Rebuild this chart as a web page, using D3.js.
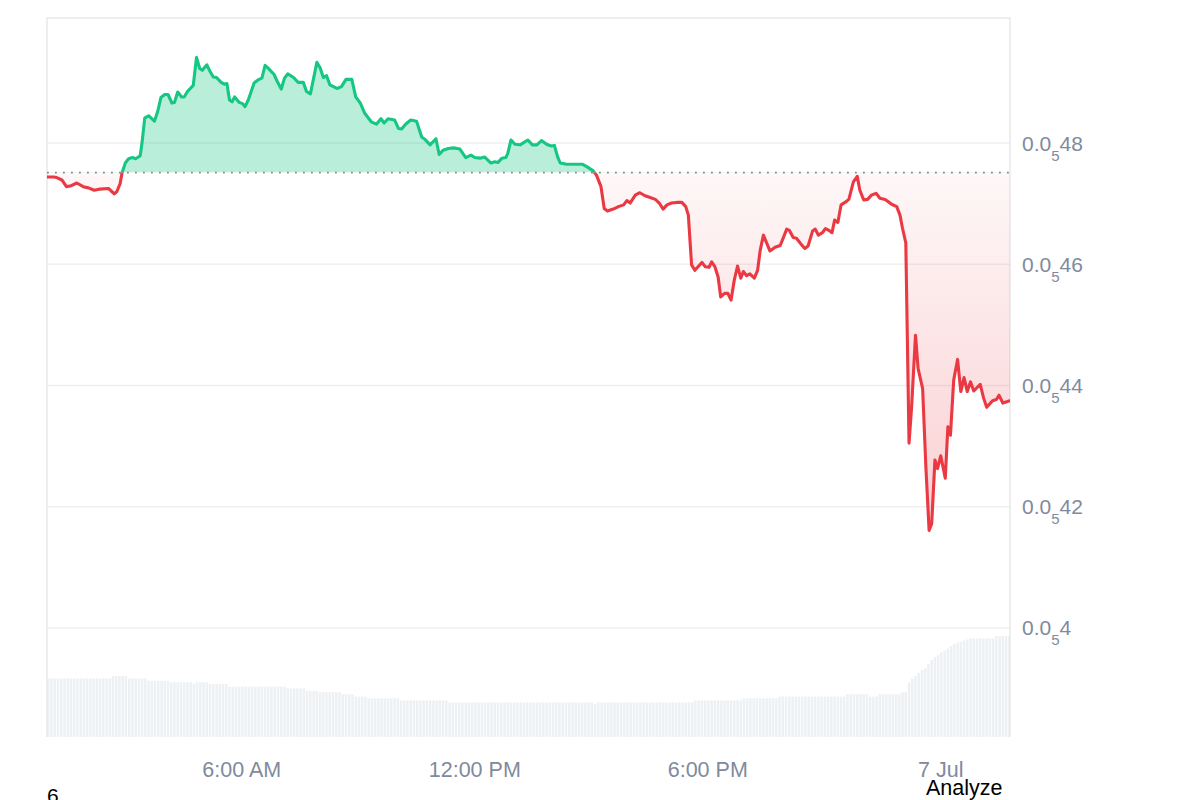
<!DOCTYPE html>
<html>
<head>
<meta charset="utf-8">
<script src="https://cdn.jsdelivr.net/npm/d3@7"></script>
<style>
  body { margin: 0; background: #fff; }
  svg { display: block; font-family: "Liberation Sans", Arial, sans-serif; }
</style>
</head>
<body>
<svg id="chart" width="1200" height="800"></svg>
<script>
// prices are in millionths: 4.8 means 0.0000048 (shown as 0.0₅48)
const pricePoints = [
  ["06 00:59", 4.744], ["06 01:09", 4.744], ["06 01:14", 4.743], ["06 01:22", 4.739],
  ["06 01:29", 4.728], ["06 01:35", 4.729], ["06 01:45", 4.734], ["06 01:55", 4.728],
  ["06 02:03", 4.726], ["06 02:12", 4.722], ["06 02:21", 4.724], ["06 02:34", 4.725],
  ["06 02:39", 4.720], ["06 02:43", 4.716], ["06 02:47", 4.720], ["06 02:52", 4.733],
  ["06 02:55", 4.751], ["06 03:00", 4.767], ["06 03:05", 4.774], ["06 03:11", 4.776],
  ["06 03:16", 4.774], ["06 03:23", 4.779], ["06 03:26", 4.802], ["06 03:30", 4.841],
  ["06 03:36", 4.845], ["06 03:45", 4.836], ["06 03:50", 4.852], ["06 03:55", 4.875],
  ["06 04:01", 4.880], ["06 04:06", 4.880], ["06 04:12", 4.866], ["06 04:16", 4.867],
  ["06 04:21", 4.884], ["06 04:27", 4.876], ["06 04:31", 4.876], ["06 04:36", 4.885],
  ["06 04:45", 4.895], ["06 04:50", 4.941], ["06 04:55", 4.923], ["06 04:59", 4.920],
  ["06 05:06", 4.929], ["06 05:11", 4.918], ["06 05:16", 4.909], ["06 05:21", 4.908],
  ["06 05:28", 4.900], ["06 05:33", 4.897], ["06 05:37", 4.898], ["06 05:41", 4.871],
  ["06 05:45", 4.868], ["06 05:49", 4.876], ["06 05:56", 4.867], ["06 06:01", 4.865],
  ["06 06:05", 4.860], ["06 06:10", 4.871], ["06 06:19", 4.899], ["06 06:25", 4.904],
  ["06 06:31", 4.907], ["06 06:36", 4.928], ["06 06:41", 4.923], ["06 06:50", 4.913],
  ["06 06:55", 4.901], ["06 07:01", 4.889], ["06 07:06", 4.907], ["06 07:11", 4.914],
  ["06 07:20", 4.908], ["06 07:27", 4.900], ["06 07:35", 4.900], ["06 07:40", 4.885],
  ["06 07:46", 4.881], ["06 07:56", 4.933], ["06 08:01", 4.924], ["06 08:06", 4.908],
  ["06 08:11", 4.911], ["06 08:16", 4.896], ["06 08:27", 4.890], ["06 08:34", 4.893],
  ["06 08:41", 4.905], ["06 08:50", 4.905], ["06 08:56", 4.876], ["06 09:03", 4.866],
  ["06 09:10", 4.849], ["06 09:20", 4.835], ["06 09:28", 4.831], ["06 09:35", 4.840],
  ["06 09:40", 4.833], ["06 09:46", 4.840], ["06 09:56", 4.838], ["06 10:02", 4.824],
  ["06 10:07", 4.823], ["06 10:13", 4.831], ["06 10:21", 4.838], ["06 10:30", 4.836],
  ["06 10:38", 4.810], ["06 10:43", 4.806], ["06 10:51", 4.797], ["06 11:00", 4.807],
  ["06 11:05", 4.781], ["06 11:11", 4.788], ["06 11:19", 4.791], ["06 11:27", 4.792],
  ["06 11:37", 4.790], ["06 11:46", 4.776], ["06 11:54", 4.780], ["06 12:00", 4.776],
  ["06 12:08", 4.775], ["06 12:15", 4.777], ["06 12:25", 4.767], ["06 12:31", 4.769],
  ["06 12:36", 4.768], ["06 12:42", 4.775], ["06 12:48", 4.776], ["06 12:51", 4.783],
  ["06 12:56", 4.805], ["06 13:02", 4.798], ["06 13:10", 4.797], ["06 13:22", 4.805],
  ["06 13:29", 4.797], ["06 13:36", 4.797], ["06 13:43", 4.804], ["06 13:51", 4.798],
  ["06 13:58", 4.795], ["06 14:03", 4.796], ["06 14:08", 4.777], ["06 14:12", 4.767],
  ["06 14:22", 4.765], ["06 14:40", 4.765], ["06 14:46", 4.765], ["06 14:53", 4.761],
  ["06 15:03", 4.754], ["06 15:08", 4.747], ["06 15:15", 4.728], ["06 15:20", 4.692],
  ["06 15:25", 4.688], ["06 15:34", 4.691], ["06 15:42", 4.695], ["06 15:50", 4.698],
  ["06 15:55", 4.705], ["06 16:00", 4.701], ["06 16:08", 4.714], ["06 16:15", 4.718],
  ["06 16:23", 4.713], ["06 16:31", 4.710], ["06 16:39", 4.707], ["06 16:45", 4.701],
  ["06 16:51", 4.691], ["06 16:57", 4.698], ["06 17:04", 4.701], ["06 17:12", 4.702],
  ["06 17:20", 4.702], ["06 17:26", 4.695], ["06 17:30", 4.681], ["06 17:35", 4.599],
  ["06 17:40", 4.590], ["06 17:51", 4.603], ["06 17:56", 4.596], ["06 18:02", 4.595],
  ["06 18:06", 4.604], ["06 18:11", 4.596], ["06 18:16", 4.579], ["06 18:20", 4.546],
  ["06 18:26", 4.552], ["06 18:31", 4.552], ["06 18:36", 4.541], ["06 18:41", 4.574],
  ["06 18:46", 4.597], ["06 18:51", 4.577], ["06 18:55", 4.588], ["06 19:00", 4.581],
  ["06 19:05", 4.584], ["06 19:12", 4.577], ["06 19:17", 4.590], ["06 19:21", 4.623],
  ["06 19:26", 4.648], ["06 19:36", 4.622], ["06 19:44", 4.628], ["06 19:52", 4.631],
  ["06 20:02", 4.658], ["06 20:06", 4.656], ["06 20:12", 4.644], ["06 20:17", 4.643],
  ["06 20:25", 4.632], ["06 20:30", 4.626], ["06 20:35", 4.630], ["06 20:42", 4.655],
  ["06 20:46", 4.658], ["06 20:51", 4.648], ["06 20:57", 4.652], ["06 21:02", 4.659],
  ["06 21:07", 4.656], ["06 21:12", 4.652], ["06 21:16", 4.673], ["06 21:21", 4.669],
  ["06 21:26", 4.698], ["06 21:32", 4.702], ["06 21:38", 4.707], ["06 21:45", 4.736],
  ["06 21:51", 4.745], ["06 21:55", 4.722], ["06 22:01", 4.706], ["06 22:07", 4.707],
  ["06 22:13", 4.714], ["06 22:20", 4.717], ["06 22:26", 4.709], ["06 22:34", 4.707],
  ["06 22:39", 4.703], ["06 22:44", 4.699], ["06 22:52", 4.695], ["06 22:57", 4.681],
  ["06 23:01", 4.659], ["06 23:06", 4.635], ["06 23:11", 4.305], ["06 23:15", 4.365],
  ["06 23:21", 4.483], ["06 23:25", 4.428], ["06 23:32", 4.395], ["06 23:37", 4.266],
  ["06 23:42", 4.161], ["06 23:46", 4.172], ["06 23:51", 4.277], ["06 23:55", 4.263],
  ["07 00:00", 4.284], ["07 00:07", 4.247], ["07 00:11", 4.332], ["07 00:15", 4.318],
  ["07 00:20", 4.409], ["07 00:26", 4.443], ["07 00:31", 4.390], ["07 00:36", 4.413],
  ["07 00:41", 4.390], ["07 00:46", 4.406], ["07 00:51", 4.391], ["07 01:01", 4.402],
  ["07 01:06", 4.380], ["07 01:11", 4.364], ["07 01:20", 4.375], ["07 01:26", 4.377],
  ["07 01:30", 4.384], ["07 01:36", 4.371], ["07 01:47", 4.375]
];

const openPrice = 4.7513;
const priceDomain = [3.8202, 5.0062];
const priceTicks = [4.0, 4.2, 4.4, 4.6, 4.8];
const timeRange = ["06 00:59", "07 01:47"];

// 5 minute volume bars, one row per hour
const volumeStart = "06 00:59";
const volumeStepMinutes = 5;
const volumeValues = [
  1.71, 1.71, 1.71, 1.71, 1.71, 1.71, 1.71, 1.71, 1.71, 1.71, 1.71, 1.71,
  1.71, 1.71, 1.71, 1.71, 1.71, 1.71, 1.71, 1.71, 1.78, 1.78, 1.78, 1.78,
  1.78, 1.71, 1.71, 1.71, 1.71, 1.71, 1.71, 1.64, 1.64, 1.64, 1.64, 1.64,
  1.64, 1.64, 1.60, 1.60, 1.60, 1.60, 1.60, 1.60, 1.60, 1.55, 1.60, 1.60,
  1.60, 1.60, 1.55, 1.55, 1.55, 1.55, 1.55, 1.55, 1.47, 1.47, 1.47, 1.47,
  1.47, 1.47, 1.47, 1.47, 1.47, 1.47, 1.47, 1.47, 1.47, 1.47, 1.47, 1.47,
  1.47, 1.47, 1.42, 1.42, 1.42, 1.42, 1.42, 1.42, 1.35, 1.35, 1.35, 1.35,
  1.31, 1.31, 1.31, 1.31, 1.31, 1.31, 1.31, 1.25, 1.25, 1.25, 1.25, 1.18,
  1.18, 1.18, 1.18, 1.13, 1.13, 1.13, 1.13, 1.13, 1.13, 1.13, 1.13, 1.13,
  1.13, 1.07, 1.07, 1.07, 1.07, 1.07, 1.07, 1.07, 1.07, 1.07, 1.07, 1.07,
  1.07, 1.07, 1.07, 1.07, 1.01, 1.01, 1.01, 1.01, 1.01, 1.01, 1.01, 1.01,
  1.01, 1.01, 1.01, 1.01, 1.01, 1.01, 1.01, 1.01, 1.01, 1.01, 1.01, 1.01,
  1.01, 1.01, 1.01, 1.01, 1.01, 1.01, 1.01, 1.01, 1.01, 1.01, 1.01, 1.01,
  1.01, 1.01, 1.01, 1.01, 1.01, 1.01, 1.01, 1.01, 1.01, 1.01, 1.01, 1.01,
  1.01, 0.96, 1.01, 1.01, 1.01, 1.01, 1.01, 1.01, 1.01, 1.01, 1.01, 1.01,
  1.01, 1.01, 1.01, 1.01, 1.01, 1.01, 1.01, 1.01, 1.01, 1.01, 1.01, 1.01,
  1.01, 1.01, 1.01, 1.01, 1.01, 1.01, 1.01, 1.01, 1.07, 1.07, 1.07, 1.07,
  1.07, 1.07, 1.07, 1.07, 1.07, 1.07, 1.07, 1.07, 1.07, 1.07, 1.07, 1.13,
  1.13, 1.13, 1.13, 1.13, 1.13, 1.13, 1.13, 1.13, 1.13, 1.13, 1.18, 1.18,
  1.18, 1.18, 1.18, 1.18, 1.18, 1.18, 1.18, 1.18, 1.18, 1.18, 1.18, 1.18,
  1.18, 1.18, 1.18, 1.18, 1.18, 1.18, 1.18, 1.25, 1.25, 1.25, 1.25, 1.25,
  1.25, 1.25, 1.18, 1.18, 1.18, 1.25, 1.25, 1.25, 1.25, 1.25, 1.25, 1.25,
  1.31, 1.31, 1.59, 1.71, 1.78, 1.87, 1.96, 2.01, 2.13, 2.25, 2.34, 2.39,
  2.47, 2.52, 2.58, 2.66, 2.72, 2.76, 2.78, 2.82, 2.85, 2.88, 2.88, 2.88,
  2.88, 2.88, 2.88, 2.88, 2.88, 2.95, 2.95, 2.95, 2.95, 2.95
];
const volumeDomain = [0, 4];

const GREEN = '#16c784';
const RED = '#ea3943';
const LABEL = '#808a9d';

const plot = { left: 47, right: 1010, top: 18, bottom: 737 };
const parseTime = s => d3.timeParse('%Y-%m-%d %H:%M')('2024-07-' + s);

const series = pricePoints.map(([t, v]) => ({ date: parseTime(t), value: v }));

const x = d3.scaleTime()
  .domain(timeRange.map(parseTime))
  .range([plot.left, plot.right]);

const y = d3.scaleLinear()
  .domain(priceDomain)
  .range([plot.bottom, plot.top]);

const volY = d3.scaleLinear()
  .domain(volumeDomain)
  .range([plot.bottom, 600]);

const svg = d3.select('#chart');
const baseY = y(openPrice);

const defs = svg.append('defs');
defs.append('clipPath').attr('id', 'clip-up')
  .append('rect')
  .attr('x', plot.left).attr('y', plot.top)
  .attr('width', plot.right - plot.left).attr('height', baseY - plot.top);
defs.append('clipPath').attr('id', 'clip-down')
  .append('rect')
  .attr('x', plot.left).attr('y', baseY)
  .attr('width', plot.right - plot.left).attr('height', plot.bottom - baseY);

const grad = defs.append('linearGradient')
  .attr('id', 'red-fade')
  .attr('gradientUnits', 'userSpaceOnUse')
  .attr('x1', 0).attr('x2', 0)
  .attr('y1', baseY).attr('y2', y(4.16));
grad.append('stop').attr('offset', 0).attr('stop-color', RED).attr('stop-opacity', 0.04);
grad.append('stop').attr('offset', 1).attr('stop-color', RED).attr('stop-opacity', 0.24);

// volume bars
const volStart = parseTime(volumeStart);
const slotW = x(d3.timeMinute.offset(volStart, volumeStepMinutes)) - x(volStart);
svg.append('g')
  .selectAll('rect')
  .data(volumeValues)
  .enter()
  .append('rect')
  .attr('x', (d, i) => x(d3.timeMinute.offset(volStart, i * volumeStepMinutes)))
  .attr('y', d => volY(d))
  .attr('width', (d, i) => {
    const x0 = x(d3.timeMinute.offset(volStart, i * volumeStepMinutes));
    return Math.max(0, Math.min(slotW - 0.7, plot.right - x0));
  })
  .attr('height', d => plot.bottom - volY(d))
  .attr('fill', '#eef1f4');

// grid
svg.append('g')
  .selectAll('line')
  .data(priceTicks)
  .enter()
  .append('line')
  .attr('x1', plot.left).attr('x2', plot.right)
  .attr('y1', d => y(d)).attr('y2', d => y(d))
  .attr('stroke', '#efefef')
  .attr('stroke-width', 1.3);

// frame
svg.append('path')
  .attr('d', `M${plot.left},${plot.bottom}V${plot.top}H${plot.right}V${plot.bottom}`)
  .attr('fill', 'none')
  .attr('stroke', '#e9e9e9')
  .attr('stroke-width', 1.5);

const area = d3.area()
  .x(d => x(d.date))
  .y0(baseY)
  .y1(d => y(d.value));

const line = d3.line()
  .x(d => x(d.date))
  .y(d => y(d.value));

svg.append('path')
  .datum(series)
  .attr('d', area)
  .attr('clip-path', 'url(#clip-up)')
  .attr('fill', GREEN)
  .attr('fill-opacity', 0.3);

svg.append('path')
  .datum(series)
  .attr('d', area)
  .attr('clip-path', 'url(#clip-down)')
  .attr('fill', 'url(#red-fade)');

// opening price reference
svg.append('line')
  .attr('x1', plot.left).attr('x2', plot.right)
  .attr('y1', baseY).attr('y2', baseY)
  .attr('stroke', '#8a8a8a')
  .attr('stroke-width', 1.8)
  .attr('stroke-dasharray', '1.8 6.2');

[['clip-up', GREEN], ['clip-down', RED]].forEach(([clip, color]) => {
  svg.append('path')
    .datum(series)
    .attr('d', line)
    .attr('clip-path', `url(#${clip})`)
    .attr('fill', 'none')
    .attr('stroke', color)
    .attr('stroke-width', 3.1)
    .attr('stroke-linejoin', 'round')
    .attr('stroke-linecap', 'round');
});

// y labels, 0.0₅48 style
const yLabels = svg.append('g')
  .selectAll('text')
  .data(priceTicks)
  .enter()
  .append('text')
  .attr('x', 1022)
  .attr('y', d => y(d) + 7.5)
  .attr('fill', LABEL)
  .style('font-size', '21px');
yLabels.append('tspan').text('0.0');
yLabels.append('tspan')
  .attr('dy', 10)
  .style('font-size', '15px')
  .text('5');
yLabels.append('tspan')
  .attr('dy', -10)
  .text(d => String(Math.round(d * 10)).replace(/0+$/, ''));

// x labels
const fmtHour = d3.timeFormat('%-I:%M %p');
const fmtDay = d3.timeFormat('%-d %b');
svg.append('g')
  .selectAll('text')
  .data(x.ticks(d3.timeHour.every(6)))
  .enter()
  .append('text')
  .attr('x', d => x(d))
  .attr('y', 777)
  .attr('text-anchor', 'middle')
  .attr('fill', LABEL)
  .style('font-size', '21.5px')
  .text(d => (d.getHours() === 0 ? fmtDay(d) : fmtHour(d)));

// stray page text under the chart
svg.append('text')
  .attr('x', 47)
  .attr('y', 803)
  .attr('fill', '#000')
  .style('font-size', '21px')
  .text('6');
svg.append('text')
  .attr('x', 926)
  .attr('y', 795)
  .attr('fill', '#000')
  .style('font-size', '21.5px')
  .text('Analyze');
</script>
</body>
</html>
